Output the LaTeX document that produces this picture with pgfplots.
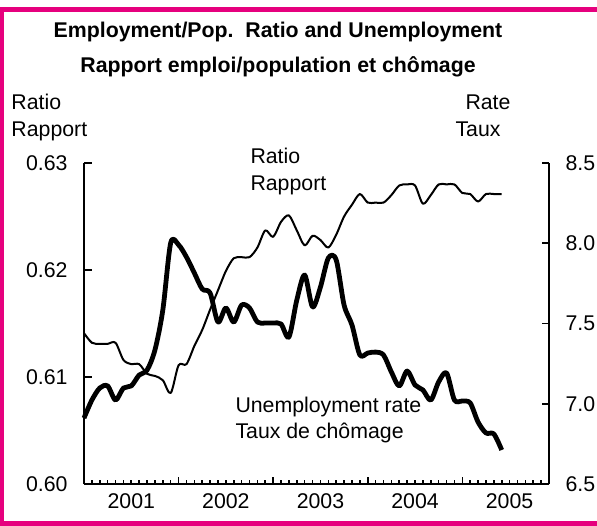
\documentclass[border=0pt]{standalone}
\usepackage{fontspec}
\setmainfont{Liberation Sans}
\usepackage{pgfplots}
\pgfplotsset{compat=1.18}
\definecolor{framepink}{RGB}{230,0,126}

\pgfplotsset{
  common/.style={
    scale only axis, width=232.5pt, height=160.5pt,
    at={(42pt,20.5pt)}, anchor=south west,
    xmin=0, xmax=59,
    tick align=inside,
    major tick length=3.75pt, minor tick length=2pt,
    every tick/.style={black, line width=0.8pt},
    axis line style={line width=1pt},
    /pgf/number format/assume math mode=true,
    clip=false,
  },
}

\begin{document}
\fontsize{10.65}{12.8}\selectfont
\begin{tikzpicture}
\path[use as bounding box] (0,0) rectangle (298.5pt,262.5pt);
\draw[framepink, line width=2.4pt] (1pt,0.75pt) rectangle (304pt,257.75pt);

% titles
\node[anchor=base, font=\bfseries] at (139pt,243.75pt) {Employment/Pop.\ \ Ratio and Unemployment};
\node[anchor=base, font=\bfseries] at (139pt,226pt) {Rapport emploi/population et chômage};
\node[anchor=base west] at (2pt,207.5pt) {Ratio};
\node[anchor=base west] at (2pt,194.2pt) {Rapport};
\node[anchor=base east] at (259pt,207.5pt) {Rate};
\node[anchor=base east] at (254pt,194.2pt) {Taux};

\begin{axis}[common,
  axis x line*=bottom, axis y line*=left,
  ymin=0.60, ymax=0.63,
  ytick={0.60,0.61,0.62,0.63},
  yticklabel style={/pgf/number format/fixed, /pgf/number format/precision=2,
    /pgf/number format/fixed zerofill, xshift=-4.5pt},
  xtick={12,24,36,48}, xticklabels={},
  minor xtick={1,...,58},
  extra x ticks={6,18,30,42,54},
  extra x tick labels={2001,2002,2003,2004,2005},
  extra x tick style={major tick length=0pt, yshift=-1pt},
]
\addplot[black, line width=1pt, smooth, tension=0.5, line join=round] coordinates {
(0,0.6141) (1,0.6132) (2,0.6131) (3,0.6131) (4,0.6132) (5,0.6116) (6,0.6112)
(7,0.6112) (8,0.6103) (9,0.6101) (10,0.6097) (11,0.6085) (12,0.6111) (13,0.6112)
(14,0.6129) (15,0.6144) (16,0.6163) (17,0.6181) (18,0.6199) (19,0.6211) (20,0.6212)
(21,0.6212) (22,0.6221) (23,0.6237) (24,0.6231) (25,0.6245) (26,0.6251) (27,0.6237)
(28,0.6223) (29,0.6232) (30,0.6228) (31,0.6221) (32,0.6233) (33,0.6250) (34,0.6261)
(35,0.6271) (36,0.6263) (37,0.6263) (38,0.6263) (39,0.6270) (40,0.6279) (41,0.6280)
(42,0.6279) (43,0.6262) (44,0.6270) (45,0.6280) (46,0.6280) (47,0.6280) (48,0.6272)
(49,0.6271) (50,0.6264) (51,0.6271) (52,0.6271) (53,0.6271)
};
\end{axis}

\begin{axis}[common,
  axis x line=none, axis y line*=right,
  ymin=6.5, ymax=8.5,
  ytick={6.5,7.0,7.5,8.0,8.5},
  yticklabel style={/pgf/number format/fixed, /pgf/number format/precision=1,
    /pgf/number format/fixed zerofill, xshift=4.5pt},
]
\addplot[black, line width=2.4pt, smooth, tension=0.5, line join=round] coordinates {
(0,6.911) (1,7.023) (2,7.098) (3,7.111) (4,7.023) (5,7.098) (6,7.111)
(7,7.179) (8,7.210) (9,7.335) (10,7.584) (11,8.002) (12,7.990) (13,7.914)
(14,7.815) (15,7.715) (16,7.690) (17,7.509) (18,7.597) (19,7.509) (20,7.615)
(21,7.597) (22,7.509) (23,7.503) (24,7.503) (25,7.497) (26,7.416) (27,7.646)
(28,7.802) (29,7.603) (30,7.727) (31,7.908) (32,7.896) (33,7.615) (34,7.491)
(35,7.304) (36,7.316) (37,7.322) (38,7.304) (39,7.198) (40,7.111) (41,7.204)
(42,7.117) (43,7.086) (44,7.023) (45,7.136) (46,7.192) (47,7.023) (48,7.017)
(49,7.005) (50,6.886) (51,6.818) (52,6.812) (53,6.712)
};
\end{axis}

\node[anchor=base west] at (121.5pt,180.5pt) {Ratio};
\node[anchor=base west] at (121.5pt,167.5pt) {Rapport};
\node[anchor=base west] at (114pt,56.5pt) {Unemployment rate};
\node[anchor=base west] at (114pt,43.5pt) {Taux de chômage};
\end{tikzpicture}
\end{document}
